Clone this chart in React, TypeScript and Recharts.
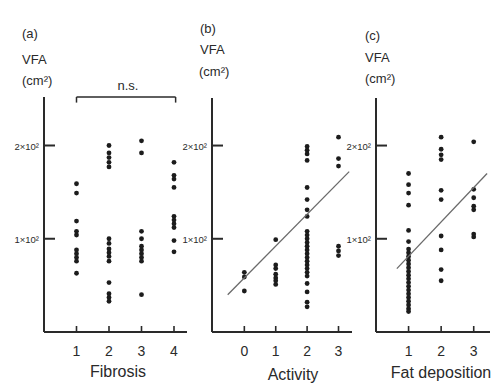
import React from 'react';
import { ScatterChart, Scatter, XAxis, YAxis, ReferenceLine } from 'recharts';

// ---------- data ----------
const vfaTicks = [100, 200];

const fibrosisTicks = [1, 2, 3, 4];
const fibrosis1 = [159, 149, 119, 108, 104, 88, 84, 80, 76, 63];
const fibrosis2 = [200, 192, 187, 182, 177, 100, 95, 89, 85, 81, 76, 53, 41, 37, 33];
const fibrosis3 = [205, 192, 108, 100, 92, 88, 84, 80, 76, 40];
const fibrosis4 = [182, 168, 164, 155, 124, 120, 116, 112, 98, 86];
const nsBracketX = [1, 4.05];

const activityTicks = [0, 1, 2, 3];
const activity0 = [64, 59, 44];
const activity1 = [99, 72, 68, 62, 58, 55, 51];
const activity2 = [199, 195, 191, 184, 155, 142, 131, 124, 108, 104, 100, 96, 92, 88, 84, 80, 76, 72, 68, 64, 60, 52, 43, 32, 27];
const activity3 = [209, 186, 178, 92, 87, 82];
const activityFitX = [-0.53, 3.34];
const activityFitY = [40, 172];

const fatTicks = [1, 2, 3];
const fat1 = [170, 158, 149, 136, 109, 97, 89, 85, 81, 77, 73, 69, 65, 61, 57, 53, 49, 45, 41, 37, 33, 29, 25, 22];
const fat2 = [209, 196, 190, 185, 152, 142, 103, 88, 67, 55];
const fat3 = [204, 153, 144, 135, 131, 105, 102];
const fatFitX = [0.64, 3.41];
const fatFitY = [68, 170];

// ---------- helpers ----------
const toPoints = (x: number, ys: number[]) => ys.map((y) => ({ x, y }));
const fitPoints = (xs: number[], ys: number[]) => xs.map((x, i) => ({ x, y: ys[i] }));

const INK = '#2a2a2a';
const FONT = '"Liberation Sans", Arial, Helvetica, sans-serif';

const Dot = (p: any) => <circle cx={p.cx} cy={p.cy} r={2.4} fill="#1c1c1c" />;
const NoDot = () => <g />;

const XTick = (p: any) => {
  const { x, y, payload } = p;
  return (
    <g>
      <line x1={x} x2={x} y1={y - 6} y2={y + 1} stroke={INK} strokeWidth={1.6} />
      <text x={x} y={y + 19} textAnchor="middle" dominantBaseline="central" fontSize={14} fontFamily={FONT} fill={INK}>
        {payload.value}
      </text>
    </g>
  );
};

const YTick = (p: any) => {
  const { x, y, payload } = p;
  return (
    <g>
      <line x1={x} x2={x + 11} y1={y} y2={y} stroke={INK} strokeWidth={2} />
      <text x={x - 5} y={y + 1} textAnchor="end" dominantBaseline="central" fontSize={9.5} fontFamily={FONT} fill={INK}>
        {`${payload.value / 100}×10²`}
      </text>
    </g>
  );
};

const Txt = ({ x, cy, size, children, center }: any) => (
  <div
    style={{
      position: 'absolute',
      left: center ? x - 100 : x,
      width: center ? 200 : undefined,
      textAlign: center ? 'center' : 'left',
      top: cy - size / 2,
      height: size,
      lineHeight: `${size}px`,
      fontSize: size,
      fontFamily: FONT,
      color: INK,
      whiteSpace: 'nowrap',
    }}
  >
    {children}
  </div>
);

const Panel = ({ margin, xDomain, yMax, xTicks, groups, fit, bracket }: any) => (
  <div style={{ position: 'absolute', left: 0, top: 0 }}>
    <ScatterChart width={492} height={384} margin={margin}>
      <XAxis
        type="number"
        dataKey="x"
        domain={xDomain}
        ticks={xTicks}
        interval={0}
        allowDataOverflow
        height={10}
        tickSize={0}
        tickMargin={0}
        tickLine={false}
        tick={<XTick />}
        axisLine={{ stroke: INK, strokeWidth: 2 }}
      />
      <YAxis
        type="number"
        dataKey="y"
        domain={[0, yMax]}
        ticks={vfaTicks}
        interval={0}
        allowDataOverflow
        width={10}
        tickSize={0}
        tickMargin={0}
        tickLine={false}
        tick={<YTick />}
        axisLine={{ stroke: INK, strokeWidth: 2 }}
      />
      {groups.map((g: any, i: number) => (
        <Scatter key={i} data={g} shape={Dot} isAnimationActive={false} />
      ))}
      {fit && (
        <Scatter data={fit} shape={NoDot} line={{ stroke: '#6a6a6a', strokeWidth: 1.3 }} isAnimationActive={false} />
      )}
      {bracket && (
        <ReferenceLine
          segment={[{ x: bracket[0], y: yMax }, { x: bracket[1], y: yMax }]}
          stroke={INK}
          strokeWidth={1.5}
          ifOverflow="visible"
        />
      )}
      {bracket && (
        <ReferenceLine
          segment={[{ x: bracket[0], y: yMax }, { x: bracket[0], y: yMax - 6 }]}
          stroke={INK}
          strokeWidth={1.5}
          ifOverflow="visible"
        />
      )}
      {bracket && (
        <ReferenceLine
          segment={[{ x: bracket[1], y: yMax }, { x: bracket[1], y: yMax - 6 }]}
          stroke={INK}
          strokeWidth={1.5}
          ifOverflow="visible"
        />
      )}
    </ScatterChart>
  </div>
);

export default function App() {
  return (
    <div style={{ position: 'absolute', left: 0, top: 0, width: 492, height: 384, background: '#fff', overflow: 'hidden' }}>
      <Panel
        margin={{ top: 97, left: 34, right: 305, bottom: 42 }}
        xDomain={[0, 4.4]}
        yMax={252}
        xTicks={fibrosisTicks}
        groups={[toPoints(1, fibrosis1), toPoints(2, fibrosis2), toPoints(3, fibrosis3), toPoints(4, fibrosis4)]}
        bracket={nsBracketX}
      />
      <Panel
        margin={{ top: 98, left: 202, right: 140, bottom: 42 }}
        xDomain={[-1.03, 3.43]}
        yMax={251}
        xTicks={activityTicks}
        groups={[toPoints(0, activity0), toPoints(1, activity1), toPoints(2, activity2), toPoints(3, activity3)]}
        fit={fitPoints(activityFitX, activityFitY)}
      />
      <Panel
        margin={{ top: 98, left: 366, right: 2, bottom: 42 }}
        xDomain={[0, 3.5]}
        yMax={251}
        xTicks={fatTicks}
        groups={[toPoints(1, fat1), toPoints(2, fat2), toPoints(3, fat3)]}
        fit={fitPoints(fatFitX, fatFitY)}
      />

      <Txt x={22} cy={33} size={13}>(a)</Txt>
      <Txt x={22} cy={59} size={13}>VFA</Txt>
      <Txt x={22} cy={80} size={13}>(cm²)</Txt>
      <Txt x={128} cy={85} size={13} center>n.s.</Txt>

      <Txt x={200} cy={28} size={13}>(b)</Txt>
      <Txt x={200} cy={49} size={13}>VFA</Txt>
      <Txt x={199} cy={71} size={13}>(cm²)</Txt>

      <Txt x={365} cy={35} size={13}>(c)</Txt>
      <Txt x={365} cy={57} size={13}>VFA</Txt>
      <Txt x={365} cy={78} size={13}>(cm²)</Txt>

      <Txt x={118} cy={372} size={16} center>Fibrosis</Txt>
      <Txt x={293} cy={375} size={16} center>Activity</Txt>
      <Txt x={441} cy={373} size={16} center>Fat deposition</Txt>
    </div>
  );
}
